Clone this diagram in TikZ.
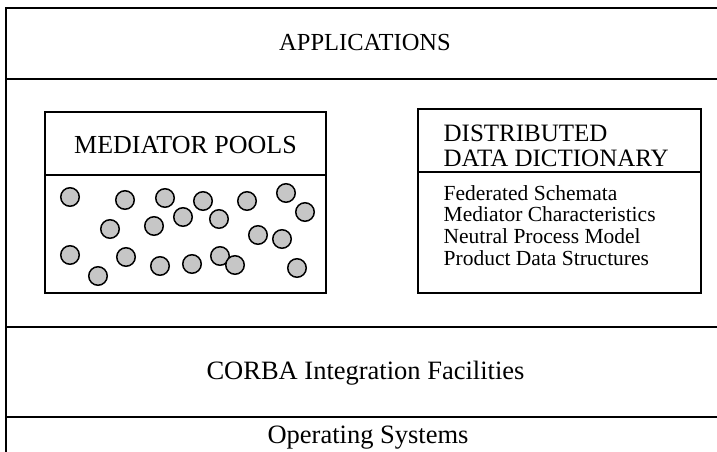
\documentclass[tikz,border=0pt]{standalone}
\usepackage{fontspec}
\setmainfont{Liberation Serif}
\tikzset{
	layer/.style={inner sep=0pt, anchor=base, font=\fontsize{26.5}{26.5}\selectfont},
	title/.style={inner sep=0pt, font=\fontsize{26}{26}\selectfont},
	entry/.style={inner sep=0pt, anchor=base west, font=\fontsize{21.5}{21.5}\selectfont},
	pool/.style={circle, draw, line width=1.5pt, fill=gray!45, minimum size=18.5pt, inner sep=0pt},
}
\begin{document}
\begin{tikzpicture}[x=1pt, y=-1pt, line width=1.3pt]
	\useasboundingbox (0,0) rectangle (717,452);

	% layers
	\draw (717,8) -- (6,8) -- (6,452);
	\foreach \y in {79,327,417}
		\draw (6,\y) -- (717,\y);
	\node[layer, font=\fontsize{24.5}{24.5}\selectfont] (apps) at (365,51) {APPLICATIONS};
	\node[layer] (corba) at (365.5,379) {CORBA Integration Facilities};
	\node[layer] (os) at (368,443) {Operating Systems};

	% mediator pools
	\draw (45,112) rectangle (326,293);
	\draw (45,175) -- (326,175);
	\node[title, anchor=base] (pools) at (185.5,153) {MEDIATOR POOLS};
	\foreach \x/\y [count=\i] in {70/197, 125/200, 165/198, 203/201, 247/201, 286/193, 305/212,
		110/229, 154/226, 183/217, 219/219, 258/235, 282/239,
		70/255, 98/276, 126/257, 160/266, 192/264, 220/256, 235/265, 297/268}
		\node[pool] (m-\i) at (\x,\y) {};

	% data dictionary
	\draw (418,109) rectangle (701,293);
	\draw (418,172) -- (701,172);
	\node[title, anchor=base west, font=\fontsize{25}{25}\selectfont] (ddd-1) at (443,141) {DISTRIBUTED};
	\node[title, anchor=base west, font=\fontsize{25}{25}\selectfont] (ddd-2) at (443,166) {DATA DICTIONARY};
	\foreach \t/\y [count=\i] in {Federated Schemata/200, Mediator Characteristics/221,
		Neutral Process Model/243, Product Data Structures/265}
		\node[entry] (item-\i) at (443,\y) {\t};
\end{tikzpicture}
\end{document}
